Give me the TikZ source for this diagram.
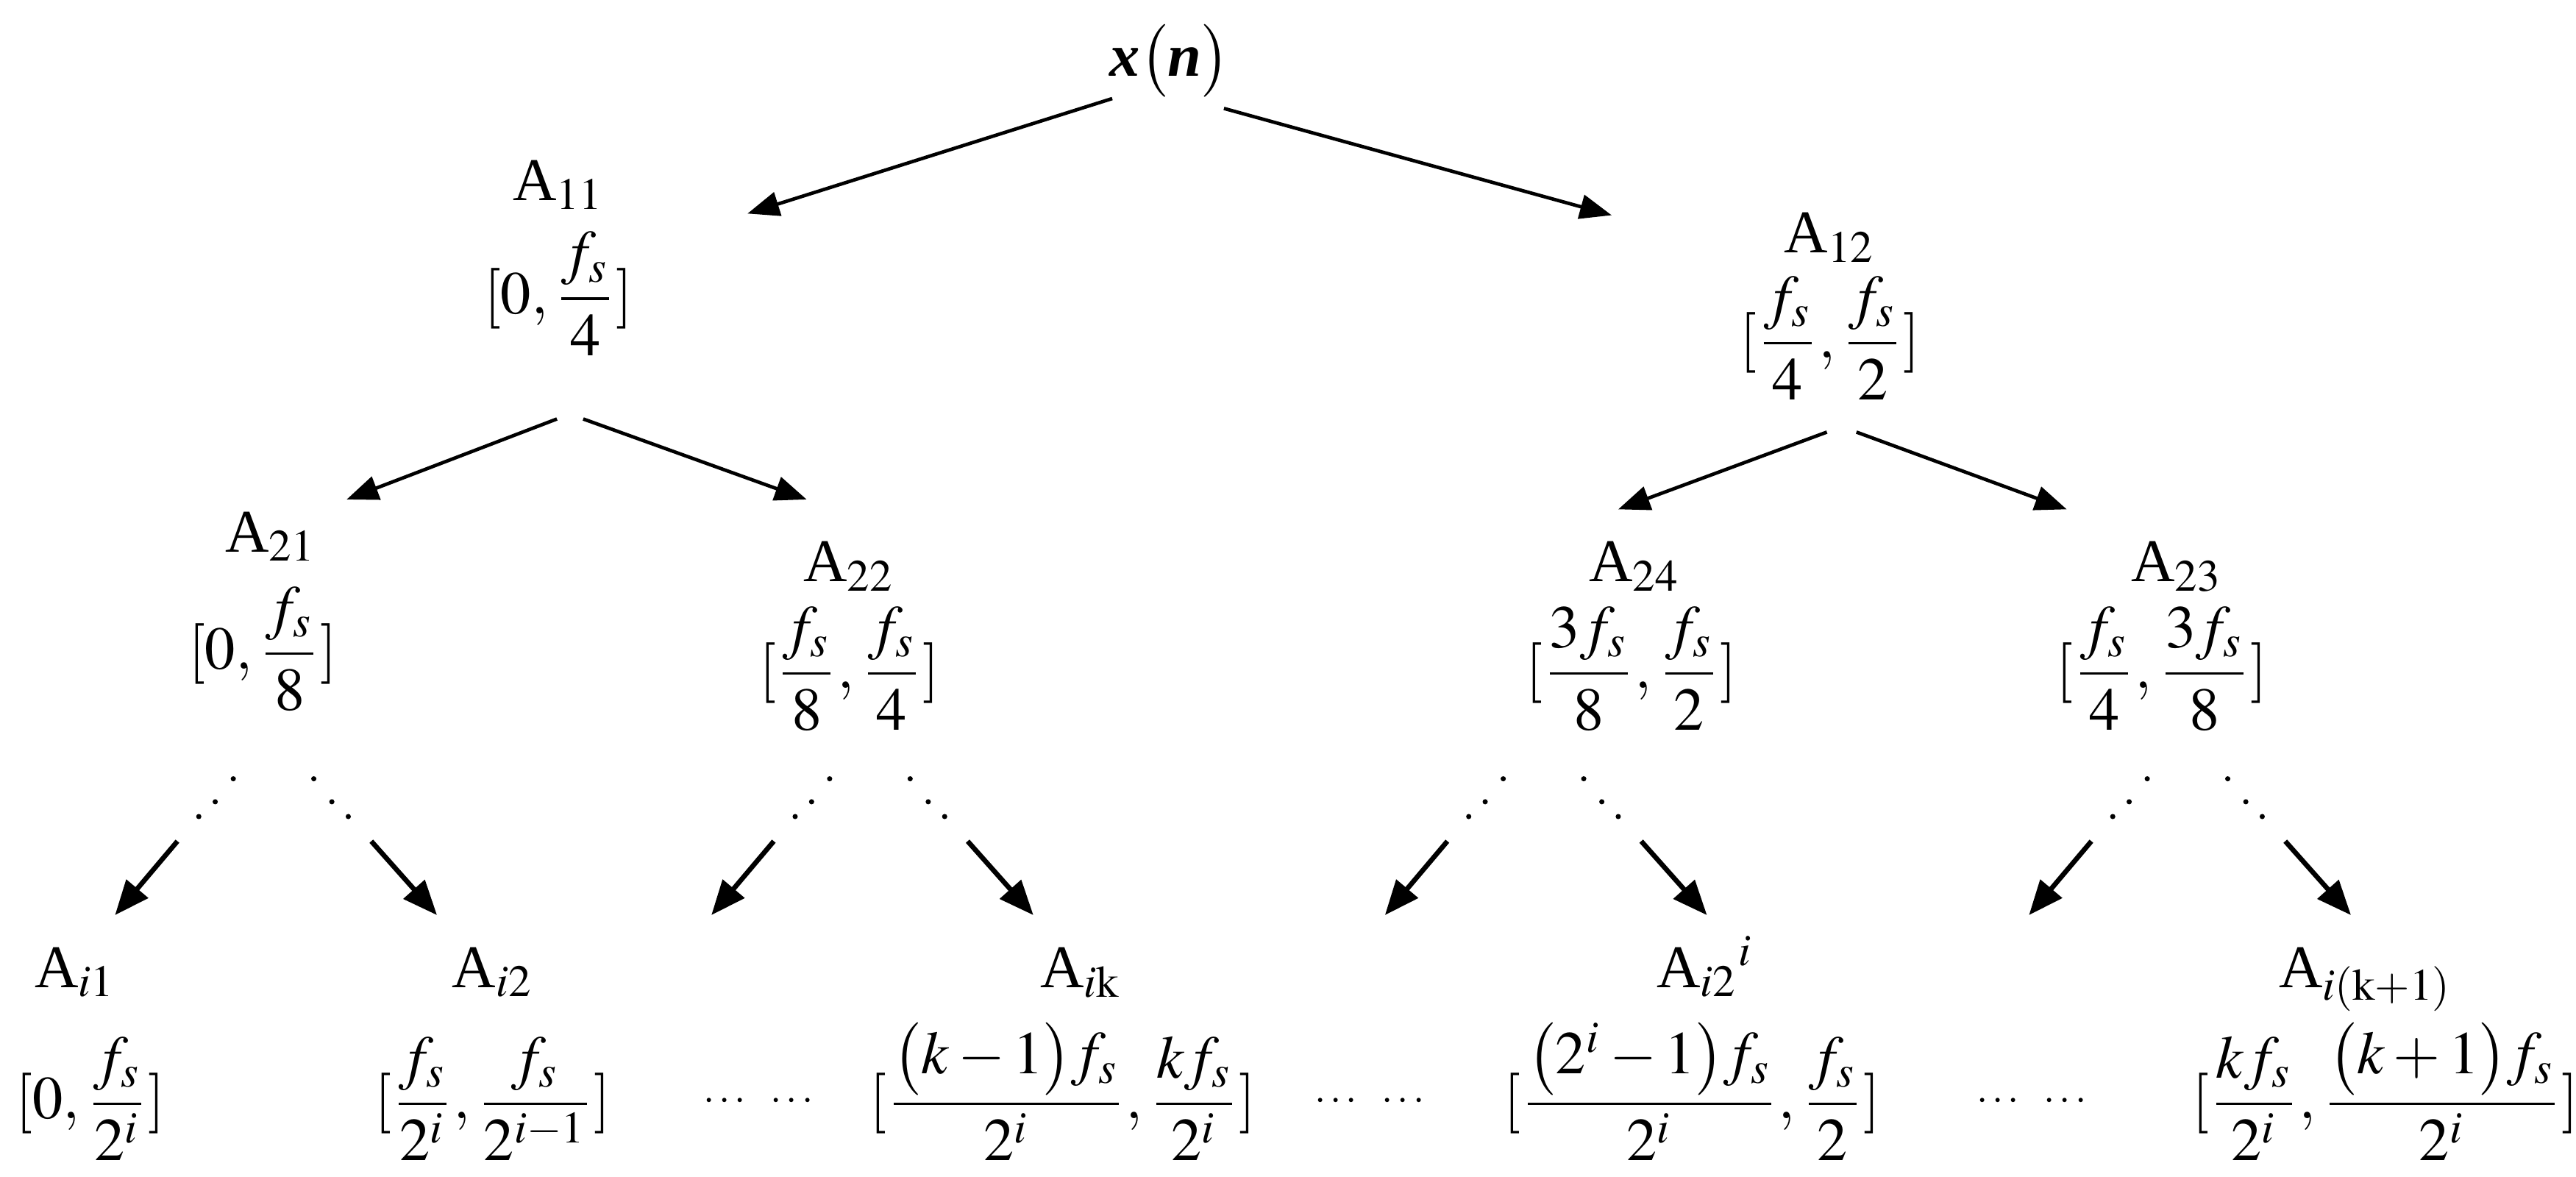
\documentclass[tikz,border=0pt]{standalone}
\usepackage{amsmath}
\usepackage{mathptmx}
\usepackage{fontspec}
\setmainfont{Liberation Serif}
\usetikzlibrary{arrows.meta}

\begin{document}
\begin{tikzpicture}[x=1cm, y=-1cm, font=\fontsize{10.5}{12}\selectfont,
		every node/.style={inner sep=0pt, anchor=base},
		arr/.style={line width=0.6pt, -{Triangle[length=5.5pt, width=4.2pt]}},
		darr/.style={line width=0.85pt, -{Triangle[length=6pt, width=4.8pt]}},
		gapdots/.style={font=\fontsize{7}{8}\selectfont}]
	\useasboundingbox (0,0) rectangle (15.68,7.16);

	% root
	\node[anchor=center] (root) at (7.12,0.37) {{\bfseries\itshape x}$\bigl($\textbf{\textit{n}}$\bigr)$};

	% first split
	\node (lab11) at (3.40,1.22) {A$_{11}$};
	\node (int11) at (3.40,1.91) {$[0,\dfrac{f_s}{4}]$};
	\node (lab12) at (11.14,1.54) {A$_{12}$};
	\node (int12) at (11.14,2.18) {$[\dfrac{f_s}{4},\dfrac{f_s}{2}]$};

	\coordinate (r1) at (6.77,0.60); \coordinate (t11) at (4.55,1.30);
	\coordinate (r2) at (7.45,0.66); \coordinate (t12) at (9.81,1.31);
	\draw[arr] (r1) -- (t11);
	\draw[arr] (r2) -- (t12);

	% second split
	\node (lab21) at (1.65,3.36) {A$_{21}$};
	\node (int21) at (1.60,4.07) {$[0,\dfrac{f_s}{8}]$};
	\node (lab22) at (5.17,3.54) {A$_{22}$};
	\node (int22) at (5.17,4.19) {$[\dfrac{f_s}{8},\dfrac{f_s}{4}]$};
	\node (lab24) at (9.95,3.54) {A$_{24}$};
	\node (int24) at (9.93,4.19) {$[\dfrac{3f_s}{8},\dfrac{f_s}{2}]$};
	\node (lab23) at (13.25,3.54) {A$_{23}$};
	\node (int23) at (13.16,4.19) {$[\dfrac{f_s}{4},\dfrac{3f_s}{8}]$};

	\coordinate (s21) at (3.39,2.55); \coordinate (t21) at (2.11,3.04);
	\coordinate (s22) at (3.55,2.55); \coordinate (t22) at (4.91,3.04);
	\coordinate (s24) at (11.12,2.63); \coordinate (t24) at (9.85,3.10);
	\coordinate (s23) at (11.30,2.63); \coordinate (t23) at (12.58,3.10);
	\draw[arr] (s21) -- (t21);
	\draw[arr] (s22) -- (t22);
	\draw[arr] (s24) -- (t24);
	\draw[arr] (s23) -- (t23);

	% dots and arrows down to level i
	\foreach \c/\n in {1.67/1, 5.30/2, 9.40/3, 13.32/4} {
		\foreach \dx/\dy in {-0.25/4.74, -0.36/4.88, -0.46/4.97, 0.24/4.74, 0.35/4.88, 0.45/4.97}
			\fill ({\c+\dx},\dy) circle (0.45pt);
		\coordinate (ls\n) at ({\c-0.59},5.12); \coordinate (lt\n) at ({\c-0.97},5.57);
		\coordinate (rs\n) at ({\c+0.59},5.12); \coordinate (rt\n) at ({\c+0.99},5.57);
		\draw[darr] (ls\n) -- (lt\n);
		\draw[darr] (rs\n) -- (rt\n);
	}

	% level i
	\node (labi1) at (0.46,6.01) {A$_{i1}$};
	\node (inti1) at (0.55,6.81) {$[0,\dfrac{f_s}{2^i}]$};
	\node (labi2) at (3.00,6.01) {A$_{i2}$};
	\node (inti2) at (3.00,6.81) {$[\dfrac{f_s}{2^i},\dfrac{f_s}{2^{i-1}}]$};
	\node[gapdots] (gap1) at (4.63,6.76) {$\cdots\enspace\cdots$};
	\node (labik) at (6.58,6.01) {A$_{i\mathrm{k}}$};
	\node (intik) at (6.47,6.81) {$[\dfrac{\bigl(k-1\bigr)f_s}{2^i},\dfrac{kf_s}{2^i}]$};
	\node[gapdots] (gap2) at (8.35,6.76) {$\cdots\enspace\cdots$};
	\node (labil) at (10.38,6.01) {A$_{i2}{}^{i}$};
	\node (intil) at (10.30,6.81) {$[\dfrac{\bigl(2^i-1\bigr)f_s}{2^i},\dfrac{f_s}{2}]$};
	\node[gapdots] (gap3) at (12.38,6.76) {$\cdots\enspace\cdots$};
	\node (labin) at (14.40,6.01) {A$_{i(\mathrm{k}+1)}$};
	\node (intin) at (14.52,6.81) {$[\dfrac{kf_s}{2^i},\dfrac{\bigl(k+1\bigr)f_s}{2^i}]$};

\end{tikzpicture}
\end{document}
